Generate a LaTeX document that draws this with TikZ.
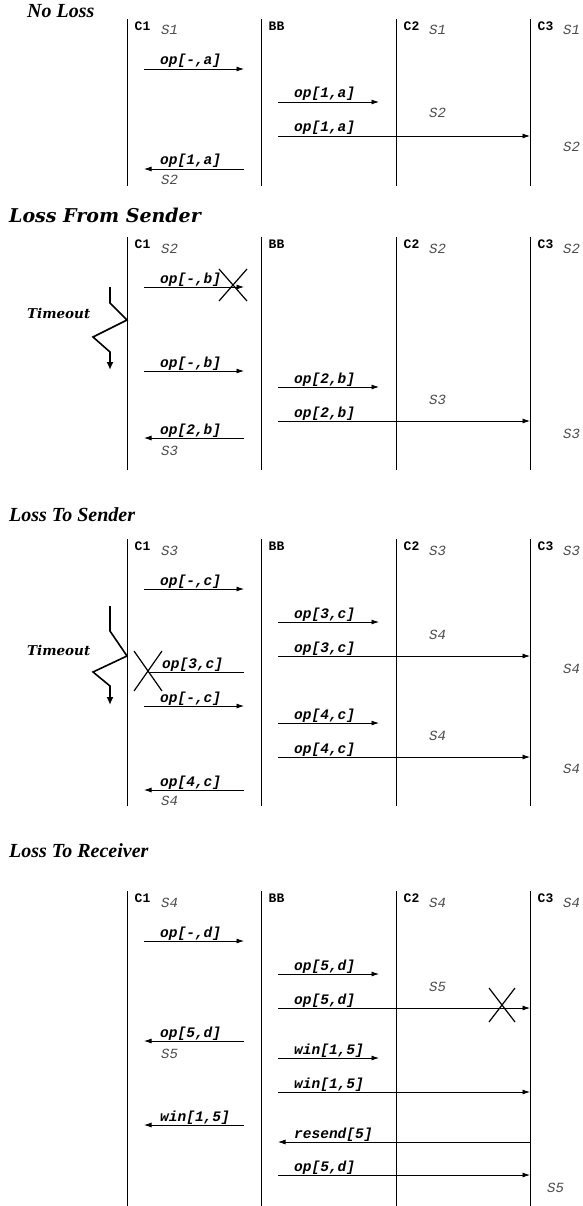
\documentclass[tikz,border=0pt]{standalone}
\usepackage{fontspec}
\setmonofont{Liberation Mono}
\newfontfamily\timesfont{Liberation Serif}
\newfontfamily\schfont{DejaVu Serif}
\usetikzlibrary{arrows.meta}
\definecolor{stategray}{gray}{0.3}
\tikzset{
  life/.style={line width=0.9pt},
  msg/.style={line width=0.8pt,-{Latex[length=7.5pt,width=5pt]}},
  lostmsg/.style={line width=0.8pt},
  lbl/.style={anchor=base west,inner sep=0pt,font=\ttfamily\bfseries\itshape\fontsize{14.5}{14.5}\selectfont},
  actor/.style={anchor=base west,inner sep=0pt,font=\ttfamily\bfseries\fontsize{13}{13}\selectfont},
  statelbl/.style={anchor=base west,inner sep=0pt,text=stategray,font=\ttfamily\itshape\fontsize{14}{14}\selectfont},
  headA/.style={anchor=base west,inner sep=0pt,font=\timesfont\bfseries\itshape\fontsize{20}{20}\selectfont},
  headB/.style={anchor=base west,inner sep=0pt,font=\schfont\bfseries\itshape\fontsize{19}{19}\selectfont},
  timeoutlbl/.style={anchor=base west,inner sep=0pt,font=\schfont\bfseries\itshape\fontsize{13.5}{13.5}\selectfont},
  crossline/.style={line width=1.2pt},
  bolt/.style={line width=1.6pt,-{Latex[length=8pt,width=7pt]}},
}
\newcommand\lifelines[3]{%
  \foreach \n/\x in {C1/127,BB/261,C2/396,C3/530}{%
    \coordinate (#1\n t) at (\x,#2);
    \coordinate (#1\n b) at (\x,#3);
    \draw[life] (#1\n t) -- (#1\n b);
    \node[actor] (#1\n l) at (\x+7.5,#2+11.5) {\n};
  }}
\newcommand\mR[5]{%
  \coordinate (#1s) at (#2,#4);
  \coordinate (#1e) at (#3,#4);
  \draw[msg] (#1s) -- (#1e);
  \node[lbl] (#1l) at (#2+16,#4-4) {#5};}
\newcommand\mL[5]{%
  \coordinate (#1s) at (#2,#4);
  \coordinate (#1e) at (#3,#4);
  \draw[msg] (#1s) -- (#1e);
  \node[lbl] (#1l) at (#3+16,#4-4) {#5};}
\newcommand\crossmark[5]{%
  \coordinate (#1a) at (#2-#4,#3-#5);
  \coordinate (#1b) at (#2+#4,#3+#5);
  \coordinate (#1c) at (#2+#4,#3-#5);
  \coordinate (#1d) at (#2-#4,#3+#5);
  \draw[crossline] (#1a) -- (#1b);
  \draw[crossline] (#1c) -- (#1d);}
\begin{document}
\begin{tikzpicture}[x=1pt,y=-1pt]
\path[use as bounding box] (0,0) rectangle (582,1206);

% ---------- No Loss ----------
\node[headA] (h1) at (27,18) {No Loss};
\lifelines{a}{19}{186}
\node[statelbl] (aS1) at (161,35) {S1};
\node[statelbl] (aS2) at (429,35) {S1};
\node[statelbl] (aS3) at (563,35) {S1};
\mR{a1}{144}{244}{69}{op[-,a]}
\mR{a2}{278}{379}{102}{op[1,a]}
\node[statelbl] (aS4) at (429,118) {S2};
\mR{a3}{278}{530}{136}{op[1,a]}
\node[statelbl] (aS5) at (563,152) {S2};
\mL{a4}{244}{144}{169}{op[1,a]}
\node[statelbl] (aS6) at (161,185) {S2};

% ---------- Loss From Sender ----------
\node[headB] (h2) at (9,223) {Loss From Sender};
\lifelines{b}{237}{470}
\node[statelbl] (bS1) at (161,253) {S2};
\node[statelbl] (bS2) at (429,253) {S2};
\node[statelbl] (bS3) at (563,253) {S2};
\mR{b1}{144}{244}{287}{op[-,b]}
\crossmark{bx}{233}{285}{14}{16}
\coordinate (bt1) at (110,287);
\coordinate (bt2) at (110,303);
\coordinate (bt3) at (127,320);
\coordinate (bt4) at (93,337);
\coordinate (bt5) at (110,352);
\coordinate (bt6) at (110,370);
\draw[bolt] (bt1) -- (bt2) -- (bt3) -- (bt4) -- (bt5) -- (bt6);
\node[timeoutlbl] (bto) at (27,318) {Timeout};
\mR{b2}{144}{244}{371}{op[-,b]}
\mR{b3}{278}{379}{387}{op[2,b]}
\node[statelbl] (bS4) at (429,404) {S3};
\mR{b4}{278}{530}{421}{op[2,b]}
\node[statelbl] (bS5) at (563,438) {S3};
\mL{b5}{244}{144}{438}{op[2,b]}
\node[statelbl] (bS6) at (161,455) {S3};

% ---------- Loss To Sender ----------
\node[headA] (h3) at (9,521) {Loss To Sender};
\lifelines{c}{539}{806}
\node[statelbl] (cS1) at (161,555) {S3};
\node[statelbl] (cS2) at (429,555) {S3};
\node[statelbl] (cS3) at (563,555) {S3};
\mR{c1}{144}{244}{589}{op[-,c]}
\mR{c2}{278}{379}{622}{op[3,c]}
\node[statelbl] (cS4) at (429,639) {S4};
\mR{c3}{278}{530}{656}{op[3,c]}
\node[statelbl] (cS5) at (563,673) {S4};
\coordinate (c4s) at (244,672);
\coordinate (c4e) at (150,672);
\draw[lostmsg] (c4s) -- (c4e);
\node[lbl] (c4l) at (162,668) {op[3,c]};
\crossmark{cx}{148}{671}{14}{20}
\coordinate (ct1) at (110,606);
\coordinate (ct2) at (110,631);
\coordinate (ct3) at (127,656);
\coordinate (ct4) at (93,672);
\coordinate (ct5) at (110,686);
\coordinate (ct6) at (110,705);
\draw[bolt] (ct1) -- (ct2) -- (ct3) -- (ct4) -- (ct5) -- (ct6);
\node[timeoutlbl] (cto) at (27,655) {Timeout};
\mR{c5}{144}{244}{706}{op[-,c]}
\mR{c6}{278}{379}{723}{op[4,c]}
\node[statelbl] (cS6) at (429,740) {S4};
\mR{c7}{278}{530}{757}{op[4,c]}
\node[statelbl] (cS7) at (563,773) {S4};
\mL{c8}{244}{144}{790}{op[4,c]}
\node[statelbl] (cS8) at (161,805) {S4};

% ---------- Loss To Receiver ----------
\node[headA] (h4) at (9,857) {Loss To Receiver};
\lifelines{d}{891}{1206}
\node[statelbl] (dS1) at (161,907) {S4};
\node[statelbl] (dS2) at (429,907) {S4};
\node[statelbl] (dS3) at (563,907) {S4};
\mR{d1}{144}{244}{941}{op[-,d]}
\mR{d2}{278}{379}{974}{op[5,d]}
\node[statelbl] (dS4) at (429,991) {S5};
\mR{d3}{278}{530}{1008}{op[5,d]}
\crossmark{dx}{502}{1005}{13}{17}
\mL{d4}{244}{144}{1041}{op[5,d]}
\node[statelbl] (dS5) at (161,1058) {S5};
\mR{d5}{278}{379}{1058}{win[1,5]}
\mR{d6}{278}{530}{1092}{win[1,5]}
\mL{d7}{244}{144}{1125}{win[1,5]}
\mL{d8}{530}{278}{1142}{resend[5]}
\mR{d9}{278}{530}{1175}{op[5,d]}
\node[statelbl] (dS6) at (547,1192) {S5};
\end{tikzpicture}
\end{document}
